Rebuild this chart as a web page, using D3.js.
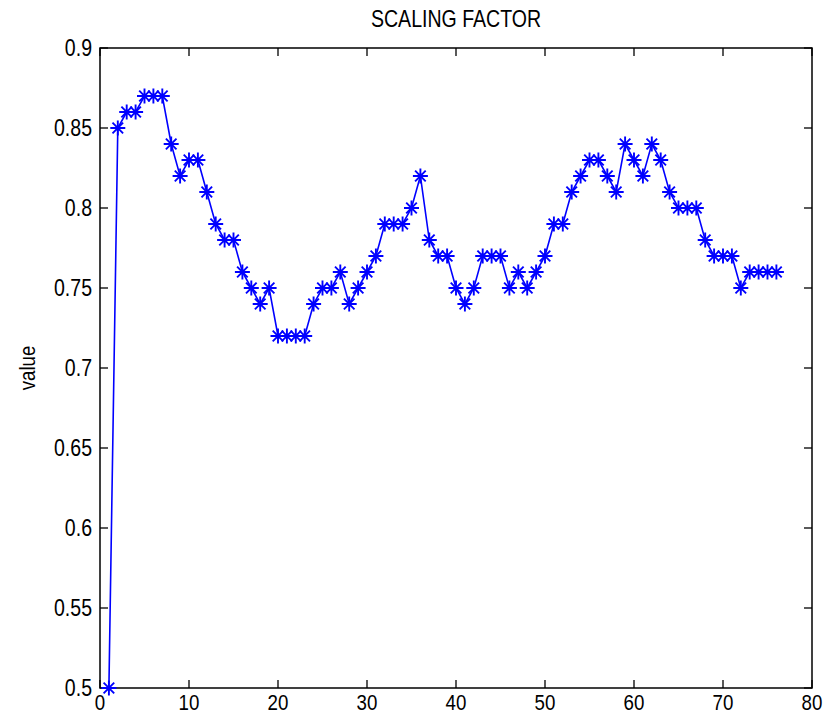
<!DOCTYPE html>
<html>
<head>
<meta charset="utf-8">
<script src="https://cdn.jsdelivr.net/npm/d3@7/dist/d3.min.js"></script>
<style>
  html, body { margin: 0; padding: 0; background: #fff; }
  svg { display: block; }
  text { font-family: "Liberation Sans", Arial, sans-serif; fill: #000; }
</style>
</head>
<body>
<svg id="chart" width="827" height="713"></svg>
<script>
// Scaling factor per iteration
const iterations = d3.range(1, 77);
const scalingFactor = [
  0.50, 0.85, 0.86, 0.86, 0.87, 0.87, 0.87, 0.84, 0.82, 0.83,
  0.83, 0.81, 0.79, 0.78, 0.78, 0.76, 0.75, 0.74, 0.75, 0.72,
  0.72, 0.72, 0.72, 0.74, 0.75, 0.75, 0.76, 0.74, 0.75, 0.76,
  0.77, 0.79, 0.79, 0.79, 0.80, 0.82, 0.78, 0.77, 0.77, 0.75,
  0.74, 0.75, 0.77, 0.77, 0.77, 0.75, 0.76, 0.75, 0.76, 0.77,
  0.79, 0.79, 0.81, 0.82, 0.83, 0.83, 0.82, 0.81, 0.84, 0.83,
  0.82, 0.84, 0.83, 0.81, 0.80, 0.80, 0.80, 0.78, 0.77, 0.77,
  0.77, 0.75, 0.76, 0.76, 0.76, 0.76
];
const xTicks = [0, 10, 20, 30, 40, 50, 60, 70, 80];
const yTicks = [0.5, 0.55, 0.6, 0.65, 0.7, 0.75, 0.8, 0.85, 0.9];
const titleText = "SCALING FACTOR";
const yLabelText = "value";

const points = iterations.map((it, i) => ({ x: it, y: scalingFactor[i] }));

const svg = d3.select("#chart");
const plotLeft = 100, plotRight = 812, plotTop = 48, plotBottom = 688;
const x = d3.scaleLinear().domain([0, 80]).range([plotLeft, plotRight]);
const y = d3.scaleLinear().domain([0.5, 0.9]).range([plotBottom, plotTop]);

const squeeze = 0.85;   // narrow glyph look
const fontSize = 23;
const tickLen = 8;

// Frame with mirrored inward ticks
const frame = svg.append("g");
frame.append("rect")
  .attr("x", plotLeft).attr("y", plotTop)
  .attr("width", plotRight - plotLeft).attr("height", plotBottom - plotTop)
  .attr("fill", "none").attr("stroke", "#000").attr("stroke-width", 1.5);

xTicks.forEach(t => {
  frame.append("line").attr("x1", x(t)).attr("x2", x(t))
    .attr("y1", plotBottom).attr("y2", plotBottom - tickLen)
    .attr("stroke", "#000").attr("stroke-width", 1.3);
  frame.append("line").attr("x1", x(t)).attr("x2", x(t))
    .attr("y1", plotTop).attr("y2", plotTop + tickLen)
    .attr("stroke", "#000").attr("stroke-width", 1.3);
});
yTicks.forEach(t => {
  frame.append("line").attr("x1", plotLeft).attr("x2", plotLeft + tickLen)
    .attr("y1", y(t)).attr("y2", y(t))
    .attr("stroke", "#000").attr("stroke-width", 1.3);
  frame.append("line").attr("x1", plotRight).attr("x2", plotRight - tickLen)
    .attr("y1", y(t)).attr("y2", y(t))
    .attr("stroke", "#000").attr("stroke-width", 1.3);
});

// Tick labels
function squeezedText(parent, px, py, str, anchor, size) {
  return parent.append("text")
    .attr("transform", `translate(${px},${py}) scale(${squeeze},1)`)
    .attr("text-anchor", anchor)
    .attr("font-size", size || fontSize)
    .text(str);
}
yTicks.forEach(t => {
  squeezedText(svg, plotLeft - 8, y(t) + 8, String(+t.toFixed(2)), "end");
});
xTicks.forEach(t => {
  squeezedText(svg, x(t), plotBottom + 22, String(t), "middle", 22);
});

// Title and axis label
squeezedText(svg, (plotLeft + plotRight) / 2, 27, titleText, "middle");
svg.append("text")
  .attr("transform", `translate(35,${(plotTop + plotBottom) / 2}) rotate(-90) scale(${squeeze},1)`)
  .attr("text-anchor", "middle")
  .attr("font-size", fontSize - 1)
  .text(yLabelText);

// Series line
const line = d3.line().x(d => x(d.x)).y(d => y(d.y));
svg.append("path")
  .datum(points)
  .attr("d", line)
  .attr("fill", "none")
  .attr("stroke", "#0000ff")
  .attr("stroke-width", 1.6);

// Asterisk markers
const star = svg.append("g").attr("stroke", "#0000ff").attr("stroke-width", 1.9).attr("fill", "none");
const arm = 7.5, diag = 5.3;
star.selectAll("path")
  .data(points)
  .join("path")
  .attr("d", d => {
    const cx = x(d.x), cy = y(d.y);
    return `M${cx - arm},${cy}H${cx + arm}M${cx},${cy - arm}V${cy + arm}` +
      `M${cx - diag},${cy - diag}L${cx + diag},${cy + diag}` +
      `M${cx - diag},${cy + diag}L${cx + diag},${cy - diag}`;
  });
</script>
</body>
</html>
